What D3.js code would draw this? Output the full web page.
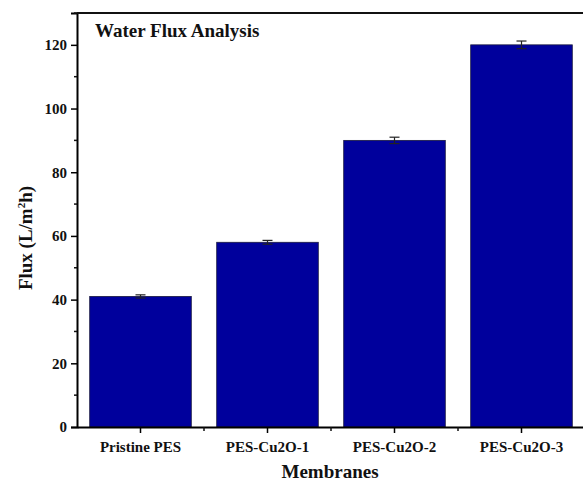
<!DOCTYPE html>
<html>
<head>
<meta charset="utf-8">
<script src="https://cdn.jsdelivr.net/npm/d3@7"></script>
<style>
  body { margin: 0; background: #fff; }
  svg { display: block; font-family: 'Liberation Serif', 'Times New Roman', serif; font-weight: bold; }
</style>
</head>
<body>
<div class="canvas"></div>
<script>
// chart data
const categories = ['Pristine PES', 'PES-Cu2O-1', 'PES-Cu2O-2', 'PES-Cu2O-3']
const flux = [41, 58, 90, 120]
const fluxErr = [0.5, 0.6, 1, 1.2]
const yTicks = [0, 20, 40, 60, 80, 100, 120]
const yMinorTicks = [10, 30, 50, 70, 90, 110, 130]

const dims = { width: 583, height: 483 }
const plot = { left: 77, right: 585, top: 13, bottom: 427 }

const svg = d3.select('.canvas')
  .append('svg')
  .attr('width', dims.width)
  .attr('height', dims.height)

const x = d3.scaleBand()
  .domain(categories)
  .range([plot.left, plot.right])
  .paddingInner(0.2)
  .paddingOuter(0.1)

const y = d3.scaleLinear()
  .domain([0, 130])
  .range([plot.bottom, plot.top])

// bars
svg.append('g').selectAll('rect')
  .data(flux)
  .enter().append('rect')
    .attr('x', (d, i) => x(categories[i]))
    .attr('y', d => y(d))
    .attr('width', x.bandwidth())
    .attr('height', d => y(0) - y(d))
    .attr('fill', '#00009c')
    .attr('stroke', '#1a1a40')
    .attr('stroke-width', 0.8)

// error bars
const errG = svg.append('g').attr('stroke', '#222').attr('stroke-width', 1.2)
flux.forEach((d, i) => {
  const cx = x(categories[i]) + x.bandwidth() / 2
  errG.append('line')
    .attr('x1', cx).attr('x2', cx)
    .attr('y1', y(d - fluxErr[i])).attr('y2', y(d + fluxErr[i]))
  ;[d - fluxErr[i], d + fluxErr[i]].forEach(v => {
    errG.append('line')
      .attr('x1', cx - 5).attr('x2', cx + 5)
      .attr('y1', y(v)).attr('y2', y(v))
  })
})

// y axis
const yAxis = svg.append('g')
  .attr('transform', `translate(${plot.left}, 0)`)
  .call(d3.axisLeft(y).tickValues(yTicks).tickSize(6).tickPadding(4))
yAxis.select('.domain').attr('stroke-width', 2)
yAxis.selectAll('.tick line').attr('stroke-width', 1.5)
yAxis.selectAll('text').attr('font-size', 15).attr('fill', '#111')
  .attr('font-family', "'Liberation Serif', serif").attr('font-weight', 'bold')

// minor y ticks
svg.append('g').selectAll('line')
  .data(yMinorTicks)
  .enter().append('line')
    .attr('x1', plot.left - 3).attr('x2', plot.left)
    .attr('y1', d => y(d)).attr('y2', d => y(d))
    .attr('stroke', '#111').attr('stroke-width', 1.5)

// x axis
const xAxis = svg.append('g')
  .attr('transform', `translate(0, ${plot.bottom})`)
  .call(d3.axisBottom(x).tickSize(6).tickPadding(8).tickSizeOuter(0))
xAxis.select('.domain').attr('stroke-width', 2)
xAxis.selectAll('.tick line').attr('stroke-width', 1.5)
xAxis.selectAll('text').attr('font-size', 15).attr('fill', '#111')
  .attr('font-family', "'Liberation Serif', serif").attr('font-weight', 'bold')

// minor x ticks between bars
svg.append('g').selectAll('line')
  .data(categories.slice(0, -1))
  .enter().append('line')
    .attr('x1', d => x(d) + x.bandwidth() + x.step() * x.paddingInner() / 2)
    .attr('x2', d => x(d) + x.bandwidth() + x.step() * x.paddingInner() / 2)
    .attr('y1', plot.bottom).attr('y2', plot.bottom + 4)
    .attr('stroke', '#111').attr('stroke-width', 1.5)

// top frame
svg.append('line')
  .attr('x1', plot.left).attr('x2', plot.right)
  .attr('y1', plot.top).attr('y2', plot.top)
  .attr('stroke', '#111').attr('stroke-width', 2)

// title inside plot
svg.append('text')
  .attr('x', 95).attr('y', 37)
  .attr('font-size', 19)
  .attr('fill', '#111')
  .text('Water Flux Analysis')

// axis titles
svg.append('text')
  .attr('x', 330).attr('y', 478)
  .attr('text-anchor', 'middle')
  .attr('font-size', 19)
  .attr('fill', '#111')
  .text('Membranes')

const yLabel = svg.append('text')
  .attr('transform', 'translate(32, 238) rotate(-90)')
  .attr('text-anchor', 'middle')
  .attr('font-size', 19)
  .attr('fill', '#111')
yLabel.append('tspan').text('Flux (L/m')
yLabel.append('tspan').attr('dy', -7).attr('font-size', 11).text('2')
yLabel.append('tspan').attr('dy', 7).text('h)')
</script>
</body>
</html>
